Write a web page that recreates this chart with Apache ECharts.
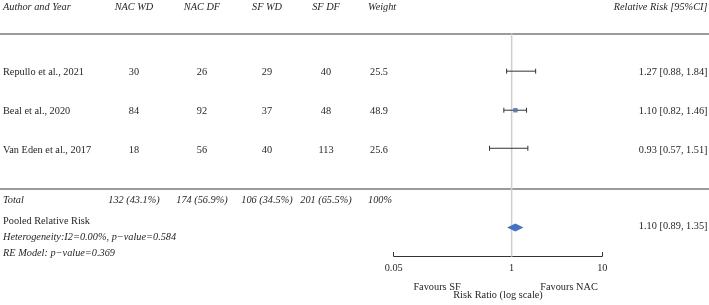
<!DOCTYPE html>
<html>
<head>
<meta charset="utf-8">
<script src="https://cdn.jsdelivr.net/npm/echarts@6/dist/echarts.min.js"></script>
<style>
  html, body { margin: 0; padding: 0; background: #fff; }
  #chart { width: 709px; height: 305px; }
</style>
</head>
<body>
<div id="chart"></div>
<script>
// study data
const studies = ['Repullo et al., 2021', 'Beal et al., 2020', 'Van Eden et al., 2017'];
const nacWD = [30, 84, 18];
const nacDF = [26, 92, 56];
const sfWD = [29, 37, 40];
const sfDF = [40, 48, 113];
const weights = [25.5, 48.9, 25.6];
const rr = [1.27, 1.10, 0.93];
const ciLow = [0.88, 0.82, 0.57];
const ciHigh = [1.84, 1.46, 1.51];
const totals = ['132 (43.1%)', '174 (56.9%)', '106 (34.5%)', '201 (65.5%)'];
const totalWeight = '100%';
const pooledRR = 1.10;
const pooledLow = 0.89;
const pooledHigh = 1.35;
const xTicks = [0.05, 1, 10];
const headers = ['NAC WD', 'NAC DF', 'SF WD', 'SF DF'];

// layout (pixel rows / columns)
const FONT = '"Liberation Serif", "Times New Roman", serif';
const rowY = [72, 111.5, 150];
const headerY = 7.5;
const totalY = 200;
const pooledY = 227.5;
const colX = [134, 202, 267, 326];
const weightX = 368;
const rightX = 707.5;
const axisY = 259;

const chart = echarts.init(document.getElementById('chart'), null, { renderer: 'canvas' });

const fmt2 = (v) => v.toFixed(2);
const ciText = (e, l, h) => `${fmt2(e)} [${fmt2(l)}, ${fmt2(h)}]`;

function txt(text, x, y, opts = {}) {
  return {
    type: 'text',
    x, y,
    silent: true,
    style: {
      text,
      font: `${opts.italic ? 'italic ' : ''}10.3px ${FONT}`,
      fill: '#262626',
      align: opts.align || 'left',
      textAlign: opts.align || 'left',
      verticalAlign: 'middle',
      textVerticalAlign: 'middle'
    }
  };
}

const graphics = [];
graphics.push(txt('Author and Year', 3, headerY, { italic: true }));
headers.forEach((h, i) => graphics.push(txt(h, colX[i], headerY, { italic: true, align: 'center' })));
graphics.push(txt('Weight', weightX, headerY, { italic: true }));
graphics.push(txt('Relative Risk [95%CI]', rightX, headerY, { italic: true, align: 'right' }));

studies.forEach((s, i) => {
  const y = rowY[i];
  graphics.push(txt(s, 3, y));
  [nacWD, nacDF, sfWD, sfDF].forEach((arr, c) => graphics.push(txt(String(arr[i]), colX[c], y, { align: 'center' })));
  graphics.push(txt(weights[i].toFixed(1), weightX + 2, y));
  graphics.push(txt(ciText(rr[i], ciLow[i], ciHigh[i]), rightX, y, { align: 'right' }));
});

graphics.push(txt('Total', 3, totalY, { italic: true }));
totals.forEach((t, c) => graphics.push(txt(t, colX[c], totalY, { italic: true, align: 'center' })));
graphics.push(txt(totalWeight, weightX, totalY, { italic: true }));

graphics.push(txt('Pooled Relative Risk', 3, 221));
graphics.push(txt('Heterogeneity:I2=0.00%, p\u2212value=0.584', 3, 237.5, { italic: true }));
graphics.push(txt('RE Model: p\u2212value=0.369', 3, 253, { italic: true }));
graphics.push(txt(ciText(pooledRR, pooledLow, pooledHigh), rightX, 226.5, { align: 'right' }));

graphics.push(txt('Favours SF', 437, 287.5, { align: 'center' }));
graphics.push(txt('Favours NAC', 569, 287.5, { align: 'center' }));

// separator rules
[34, 189].forEach((y) => graphics.push({
  type: 'line', silent: true,
  shape: { x1: 0, y1: y, x2: 709, y2: y },
  style: { stroke: '#7a7a7a', lineWidth: 1.5 }
}));

const ciData = studies.map((s, i) => [ciLow[i], ciHigh[i], rowY[i]]);

chart.setOption({
  animation: false,
  graphic: graphics,
  grid: { left: 393.7, right: 106.7, top: 0, height: axisY },
  xAxis: {
    type: 'log',
    logBase: 10,
    min: 0.05,
    max: 10,
    position: 'bottom',
    axisLine: { onZero: false, lineStyle: { color: '#333', width: 1 } },
    axisTick: { inside: true, length: 4, lineStyle: { color: '#333' }, customValues: xTicks },
    axisLabel: {
      customValues: xTicks,
      color: '#262626', fontSize: 10.3, fontFamily: FONT, margin: 7,
      formatter: (v) => String(+Number(v).toPrecision(3))
    },
    splitLine: { show: false },
    name: 'Risk Ratio (log scale)',
    nameLocation: 'middle',
    nameGap: 34,
    nameTextStyle: { color: '#262626', fontSize: 10.3, fontFamily: FONT }
  },
  yAxis: { type: 'value', min: 0, max: axisY, inverse: true, show: false },
  series: [
    {
      // no-effect reference line
      type: 'line',
      data: [[1, 34], [1, 262]],
      symbol: 'none',
      lineStyle: { color: '#cfcfcf', width: 1.5 },
      silent: true,
      z: 1
    },
    {
      type: 'custom',
      data: ciData,
      renderItem: (params, api) => {
        const a = api.coord([api.value(0), api.value(2)]);
        const b = api.coord([api.value(1), api.value(2)]);
        const st = { stroke: '#333', lineWidth: 1 };
        return {
          type: 'group',
          children: [
            { type: 'line', shape: { x1: a[0], y1: a[1], x2: b[0], y2: b[1] }, style: st },
            { type: 'line', shape: { x1: a[0], y1: a[1] - 2.5, x2: a[0], y2: a[1] + 2.5 }, style: st },
            { type: 'line', shape: { x1: b[0], y1: b[1] - 2.5, x2: b[0], y2: b[1] + 2.5 }, style: st }
          ]
        };
      },
      silent: true,
      z: 2
    },
    {
      type: 'scatter',
      symbol: 'rect',
      data: rr.map((v, i) => [v, rowY[i], weights[i]]),
      symbolSize: (d) => (d[2] >= 40 ? 4.5 : 0),
      itemStyle: { color: '#4a6fa8' },
      silent: true,
      z: 3
    },
    {
      type: 'custom',
      data: [[pooledLow, pooledRR, pooledHigh, pooledY]],
      renderItem: (params, api) => {
        const y = api.value(3);
        const l = api.coord([api.value(0), y]);
        const m = api.coord([api.value(1), y]);
        const r = api.coord([api.value(2), y]);
        return {
          type: 'polygon',
          shape: { points: [[l[0], y], [m[0], y - 4], [r[0], y], [m[0], y + 4]] },
          style: { fill: '#4472c4' }
        };
      },
      silent: true,
      z: 3
    }
  ]
});
</script>
</body>
</html>
